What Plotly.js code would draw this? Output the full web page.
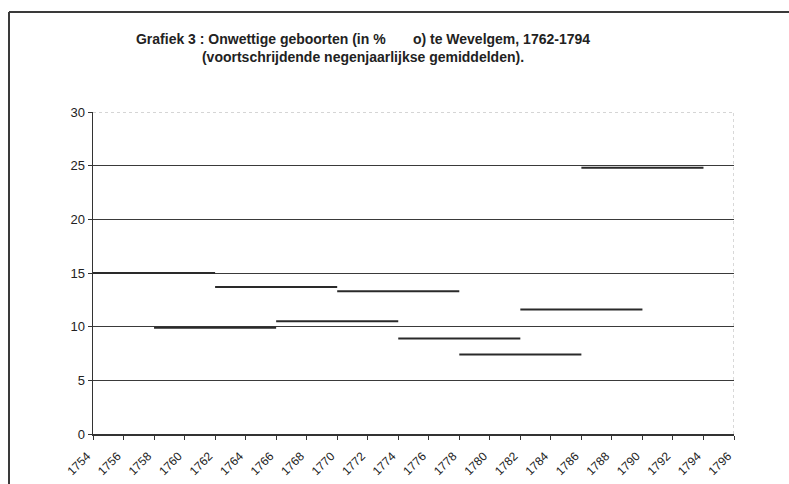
<!DOCTYPE html>
<html>
<head>
<meta charset="utf-8">
<script src="https://cdn.plot.ly/plotly-3.0.1.min.js"></script>
<style>html,body{margin:0;padding:0;background:#fff;}#chart{width:789px;height:484px;}</style>
</head>
<body>
<div id="chart"></div>
<script>
// Nine-year moving averages: each segment spans start..end year
const startYears = [1754, 1758, 1762, 1766, 1770, 1774, 1778, 1782, 1786];
const endYears   = [1762, 1766, 1770, 1774, 1778, 1782, 1786, 1790, 1794];
const values     = [15.0, 9.9, 13.7, 10.5, 13.3, 8.9, 7.4, 11.6, 24.8];
const xTicks = [1754,1756,1758,1760,1762,1764,1766,1768,1770,1772,1774,1776,1778,1780,1782,1784,1786,1788,1790,1792,1794,1796];
const yTicks = [0, 5, 10, 15, 20, 25, 30];
const titleLine1 = 'Grafiek 3 : Onwettige geboorten (in %&nbsp;&nbsp;&nbsp;&nbsp;&nbsp;&nbsp; o) te Wevelgem, 1762-1794';
const titleLine2 = '(voortschrijdende negenjaarlijkse gemiddelden).';

const traces = values.map((v, i) => ({
  type: 'scatter', mode: 'lines',
  x: [startYears[i], endYears[i]], y: [v, v],
  line: {color: '#2a2a2a', width: 2},
  showlegend: false, hoverinfo: 'skip'
}));

const L = 93, R = 734, T = 112, B = 434;
const W = R - L, H = B - T;
const px = p => (p - L) / W;
const py = p => (B - p) / H;

const layout = {
  width: 789, height: 484,
  margin: {l: L, r: 789 - R, t: T, b: 484 - B},
  paper_bgcolor: '#ffffff', plot_bgcolor: '#ffffff',
  font: {family: 'Arial, Liberation Sans, sans-serif', color: '#222'},
  title: {
    text: '<b>' + titleLine1 + '</b><br><b>' + titleLine2 + '</b>',
    font: {size: 14, color: '#222', family: 'Arial, Liberation Sans, sans-serif'},
    x: px(363), xanchor: 'center', xref: 'paper',
    y: 0.91, yanchor: 'top', yref: 'container'
  },
  xaxis: {
    range: [1754, 1796], tickvals: xTicks, ticktext: xTicks.map(String),
    tickangle: -45, ticks: 'outside', ticklen: 4, tickcolor: '#333', tickwidth: 1,
    ticklabelstandoff: 5, ticklabelshift: -6,
    showline: true, linecolor: '#333', linewidth: 1.5,
    showgrid: false, zeroline: false,
    tickfont: {size: 12, color: '#222'}
  },
  yaxis: {
    range: [0, 30], tickvals: yTicks, ticks: 'outside', ticklen: 4, tickcolor: '#333',
    showline: true, linecolor: '#333', linewidth: 1.5,
    showgrid: true, gridcolor: '#3a3a3a', gridwidth: 1, zeroline: false,
    tickfont: {size: 13, color: '#222'}
  },
  shapes: [
    {type: 'line', xref: 'x', yref: 'y', x0: 1754, x1: 1796, y0: 30, y1: 30,
     line: {color: '#c8c8c8', width: 1.5, dash: 'dot'}, layer: 'above'},
    {type: 'line', xref: 'x', yref: 'y', x0: 1796, x1: 1796, y0: 0, y1: 30,
     line: {color: '#b0b0b0', width: 1, dash: 'dot'}, layer: 'above'},
    {type: 'line', xref: 'paper', yref: 'paper', x0: px(9), x1: px(9), y0: py(12), y1: py(490),
     line: {color: '#3a3a3a', width: 2}},
    {type: 'line', xref: 'paper', yref: 'paper', x0: px(9), x1: px(795), y0: py(12), y1: py(12),
     line: {color: '#3a3a3a', width: 2}}
  ]
};

Plotly.newPlot('chart', traces, layout, {displayModeBar: false, staticPlot: true});
</script>
</body>
</html>
